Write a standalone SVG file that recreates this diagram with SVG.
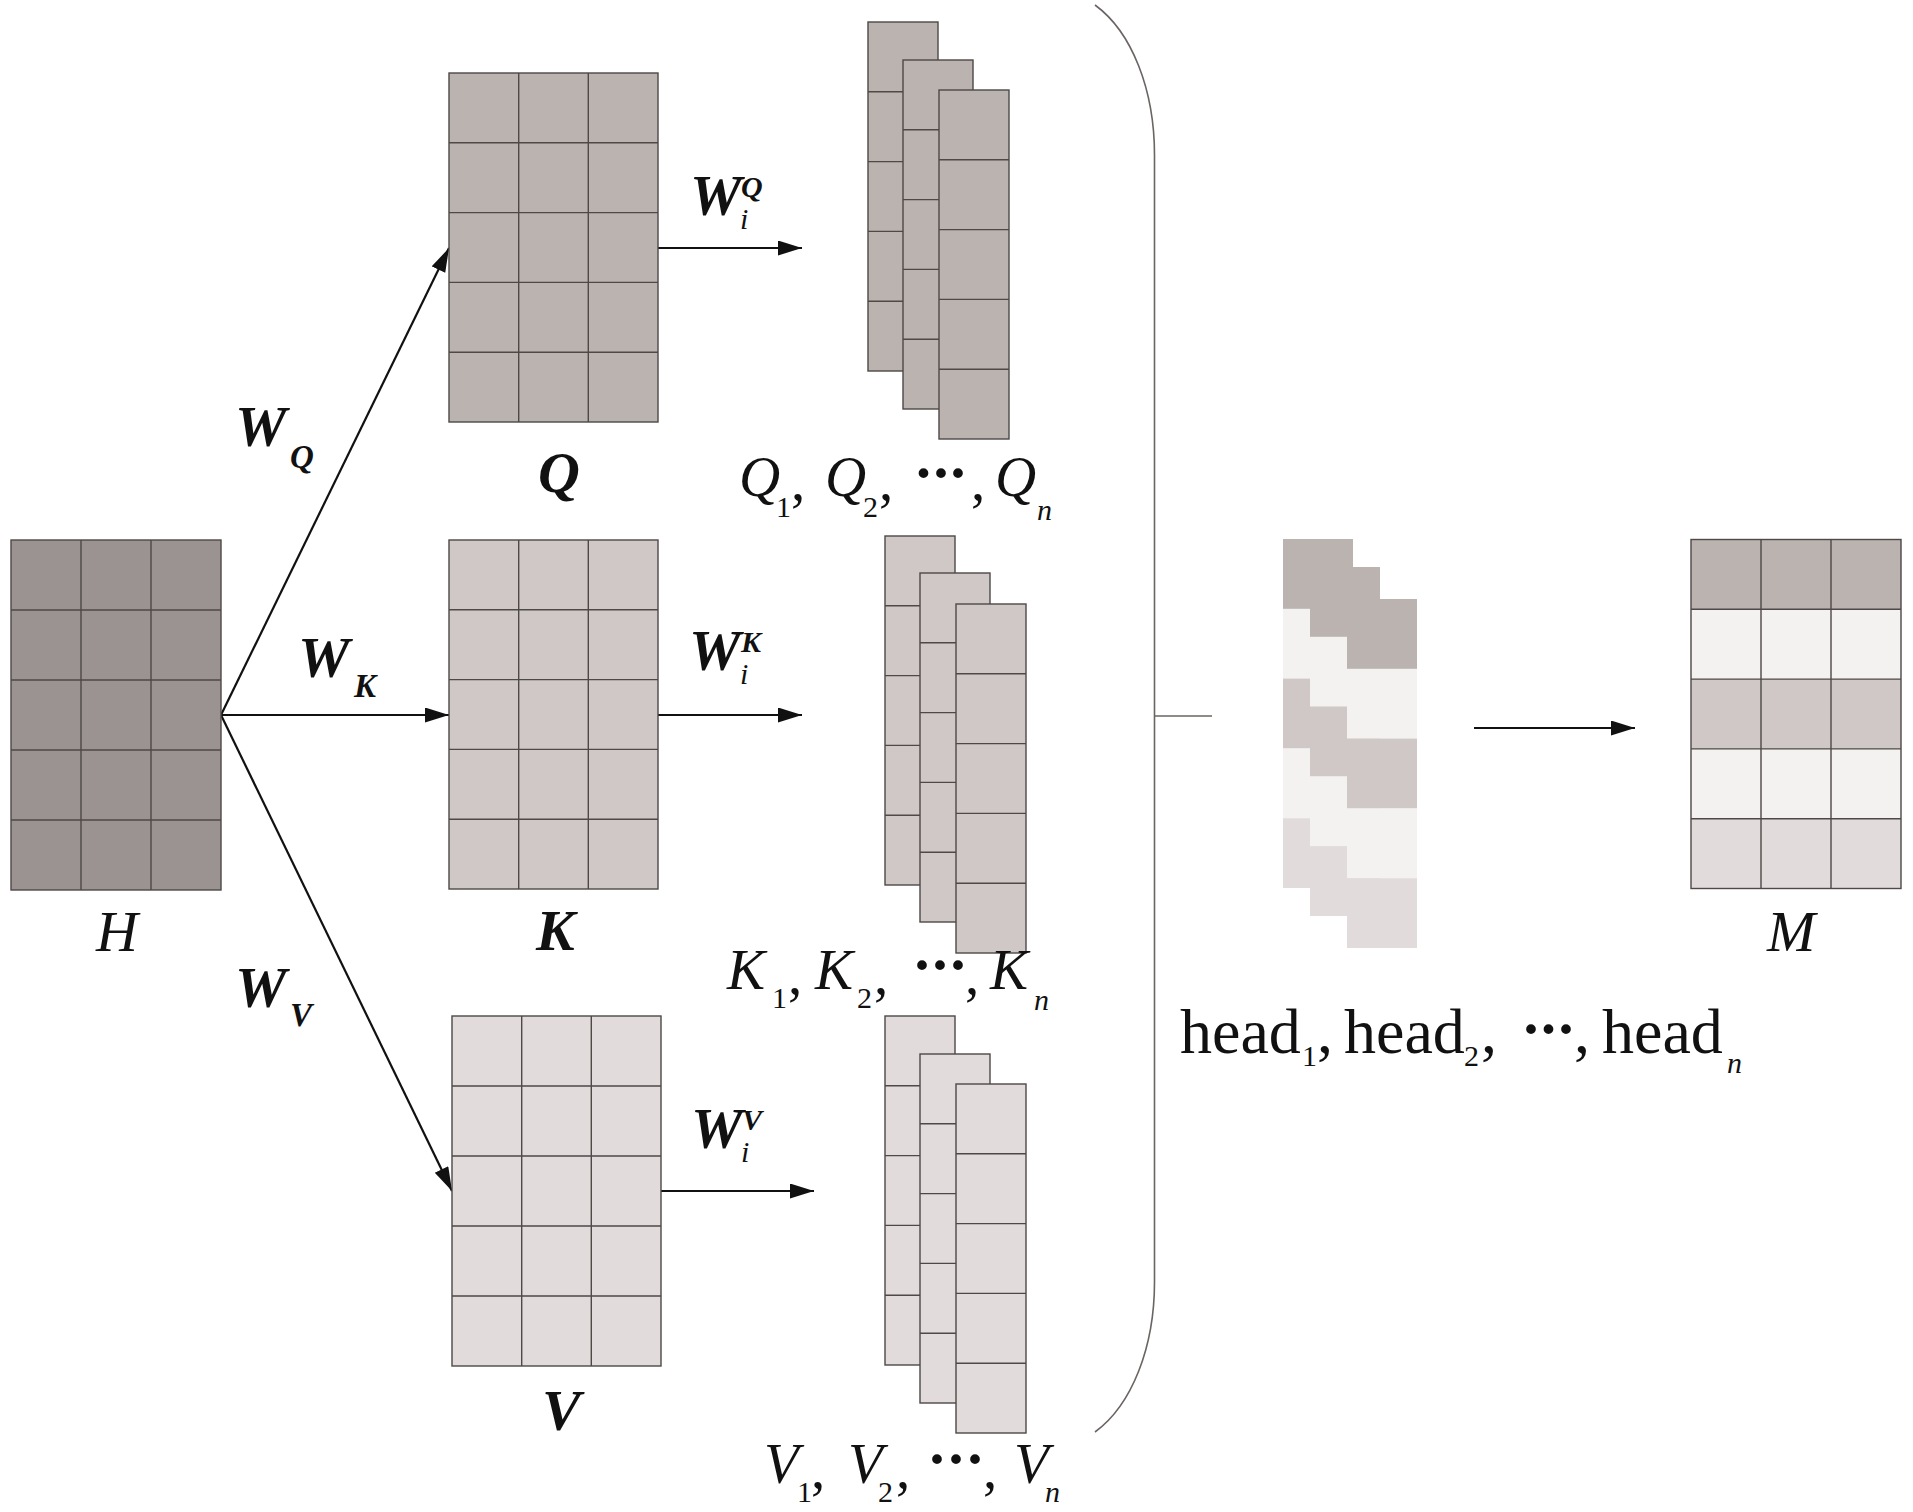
<svg xmlns="http://www.w3.org/2000/svg" xmlns:xlink="http://www.w3.org/1999/xlink" width="1913" height="1512" viewBox="0 0 1913 1512">
<style>
.grid{stroke:#4e4847;stroke-width:1.4;fill:none}
.cell{stroke:#4e4847;stroke-width:1.4}
.conn{stroke:#111;stroke-width:2.2;fill:none}
.br{stroke:#6a6462;stroke-width:1.6;fill:none}
.t{font-family:"Liberation Serif","Times New Roman",serif;fill:#111}
.bi{font-style:italic;font-weight:bold}
.it{font-style:italic}
.dots{font-family:"Liberation Serif","Times New Roman",serif;font-weight:bold;fill:#111}
</style>
<defs>
<marker id="ah" markerUnits="userSpaceOnUse" markerWidth="26" markerHeight="16" refX="24" refY="7.5" orient="auto">
<path d="M0,0 L24,7.5 L0,15 z" fill="#111"/>
</marker>
<g id="sheet">
<rect x="0" y="0" width="70" height="349" class="cell"/>
<path class="grid" d="M0,69.8H70M0,139.6H70M0,209.4H70M0,279.2H70"/>
</g>
<g id="hsheet">
<rect x="0" y="0" width="70" height="70" fill="#bab3b0"/>
<rect x="0" y="69.8" width="70" height="70" fill="#f4f2f1"/>
<rect x="0" y="139.6" width="70" height="70" fill="#cfc8c6"/>
<rect x="0" y="209.4" width="70" height="70" fill="#f4f2f1"/>
<rect x="0" y="279.2" width="70" height="69.8" fill="#e1dcdb"/>
</g>
</defs>
<rect width="1913" height="1512" fill="#fff"/>

<g id="connectors">
<line class="conn" x1="221" y1="715" x2="449" y2="248" marker-end="url(#ah)"/>
<line class="conn" x1="221" y1="715" x2="449" y2="715" marker-end="url(#ah)"/>
<line class="conn" x1="221" y1="715" x2="452" y2="1191" marker-end="url(#ah)"/>
<line class="conn" x1="658" y1="248" x2="802" y2="248" marker-end="url(#ah)"/>
<line class="conn" x1="658" y1="715" x2="802" y2="715" marker-end="url(#ah)"/>
<line class="conn" x1="661" y1="1191" x2="814" y2="1191" marker-end="url(#ah)"/>
<line class="conn" x1="1474" y1="728" x2="1635" y2="728" marker-end="url(#ah)"/>
<path class="br" d="M1095,5 C1132,32 1154.5,90 1154.5,155 L1154.5,1282 C1154.5,1347 1132,1405 1095,1432"/>
<line class="br" x1="1154.5" y1="716" x2="1212" y2="716"/>
</g>

<g id="H">
<rect x="11" y="540" width="210" height="350" fill="#9b9391" class="cell"/>
<path class="grid" d="M81,540V890M151,540V890M11,610H221M11,680H221M11,750H221M11,820H221"/>
<text class="t it" x="96" y="951" font-size="58">H</text>
</g>

<g id="Q">
<rect x="449" y="73" width="209" height="349" fill="#bab3b0" class="cell"/>
<path class="grid" d="M518.7,73V422M588.3,73V422M449,142.8H658M449,212.6H658M449,282.4H658M449,352.2H658"/>
<text class="t bi" x="538" y="492" font-size="58">Q</text>
</g>

<g id="K">
<rect x="449" y="540" width="209" height="349" fill="#cfc8c6" class="cell"/>
<path class="grid" d="M518.7,540V889M588.3,540V889M449,609.8H658M449,679.6H658M449,749.4H658M449,819.2H658"/>
<text class="t bi" x="536" y="950" font-size="58">K</text>
</g>

<g id="V">
<rect x="452" y="1016" width="209" height="350" fill="#e1dcdb" class="cell"/>
<path class="grid" d="M521.7,1016V1366M591.3,1016V1366M452,1086H661M452,1156H661M452,1226H661M452,1296H661"/>
<text class="t bi" x="542" y="1430" font-size="58">V</text>
</g>

<g id="label-WQ">
<text class="t bi" x="235" y="446" font-size="58">W</text>
<text class="t bi" x="290" y="468" font-size="33">Q</text>
</g>
<g id="label-WK">
<text class="t bi" x="298" y="677" font-size="58">W</text>
<text class="t bi" x="354" y="697" font-size="33">K</text>
</g>
<g id="label-WV">
<text class="t bi" x="235" y="1007" font-size="58">W</text>
<text class="t bi" x="290" y="1026" font-size="33">V</text>
</g>

<g id="label-WiQ">
<text class="t bi" x="690" y="215" font-size="58">W</text>
<text class="t bi" x="741" y="197" font-size="30">Q</text>
<text class="t it" x="740" y="229" font-size="30">i</text>
</g>
<g id="label-WiK">
<text class="t bi" x="689" y="670" font-size="58">W</text>
<text class="t bi" x="741" y="652" font-size="30">K</text>
<text class="t it" x="740" y="684" font-size="30">i</text>
</g>
<g id="label-WiV">
<text class="t bi" x="691" y="1148" font-size="58">W</text>
<text class="t bi" x="742" y="1130" font-size="30">V</text>
<text class="t it" x="741" y="1162" font-size="30">i</text>
</g>

<g id="Qstack">
<use xlink:href="#sheet" href="#sheet" x="868" y="22" fill="#bab3b0"/>
<use xlink:href="#sheet" href="#sheet" x="903" y="60" fill="#bab3b0"/>
<use xlink:href="#sheet" href="#sheet" x="939" y="90" fill="#bab3b0"/>
<text class="t" font-size="57"><tspan class="it" x="739" y="496">Q</tspan><tspan x="776" y="517" font-size="30">1</tspan><tspan x="791" y="500">,</tspan><tspan class="it" x="825" y="496">Q</tspan><tspan x="863" y="517" font-size="30">2</tspan><tspan x="879" y="500">,</tspan><tspan x="971" y="500">,</tspan><tspan class="it" x="995" y="496">Q</tspan><tspan class="it" x="1037" y="520" font-size="30">n</tspan></text>
<text class="dots" x="913.5 931 948" y="493" font-size="60">···</text>
</g>

<g id="Kstack">
<use xlink:href="#sheet" href="#sheet" x="885" y="536" fill="#cfc8c6"/>
<use xlink:href="#sheet" href="#sheet" x="920" y="573" fill="#cfc8c6"/>
<use xlink:href="#sheet" href="#sheet" x="956" y="604" fill="#cfc8c6"/>
<text class="t" font-size="57"><tspan class="it" x="727" y="989">K</tspan><tspan x="772" y="1008" font-size="30">1</tspan><tspan x="788" y="994">,</tspan><tspan class="it" x="815" y="989">K</tspan><tspan x="857" y="1008" font-size="30">2</tspan><tspan x="874" y="994">,</tspan><tspan x="965" y="994">,</tspan><tspan class="it" x="990" y="989">K</tspan><tspan class="it" x="1034" y="1010" font-size="30">n</tspan></text>
<text class="dots" x="912 930 948" y="985" font-size="60">···</text>
</g>

<g id="Vstack">
<use xlink:href="#sheet" href="#sheet" x="885" y="1016" fill="#e1dcdb"/>
<use xlink:href="#sheet" href="#sheet" x="920" y="1054" fill="#e1dcdb"/>
<use xlink:href="#sheet" href="#sheet" x="956" y="1084" fill="#e1dcdb"/>
<text class="t" font-size="57"><tspan class="it" x="764" y="1483">V</tspan><tspan x="797" y="1502" font-size="30">1</tspan><tspan x="811" y="1488">,</tspan><tspan class="it" x="848" y="1483">V</tspan><tspan x="878" y="1502" font-size="30">2</tspan><tspan x="896" y="1488">,</tspan><tspan x="983" y="1488">,</tspan><tspan class="it" x="1014" y="1483">V</tspan><tspan class="it" x="1045" y="1502" font-size="30">n</tspan></text>
<text class="dots" x="927 946 965" y="1479" font-size="60">···</text>
</g>

<g id="heads">
<use xlink:href="#hsheet" href="#hsheet" x="1283" y="539"/>
<use xlink:href="#hsheet" href="#hsheet" x="1310" y="567"/>
<use xlink:href="#hsheet" href="#hsheet" x="1347" y="599"/>
<text class="t" font-size="64"><tspan x="1180" y="1053">head</tspan><tspan x="1302" y="1066" font-size="30">1</tspan><tspan x="1317" y="1053">,</tspan><tspan x="1344" y="1053">head</tspan><tspan x="1464" y="1066" font-size="30">2</tspan><tspan x="1481" y="1053">,</tspan><tspan x="1574" y="1053">,</tspan><tspan x="1602" y="1053">head</tspan><tspan class="it" x="1727" y="1073" font-size="30">n</tspan></text>
<text class="dots" x="1521 1538.5 1556" y="1049" font-size="60">···</text>
</g>

<g id="M">
<rect x="1691" y="539.5" width="210" height="70" fill="#bab3b0"/>
<rect x="1691" y="609.3" width="210" height="70" fill="#f4f2f1"/>
<rect x="1691" y="679.1" width="210" height="70" fill="#cfc8c6"/>
<rect x="1691" y="748.9" width="210" height="70" fill="#f4f2f1"/>
<rect x="1691" y="818.7" width="210" height="69.8" fill="#e1dcdb"/>
<rect x="1691" y="539.5" width="210" height="349" class="grid"/>
<path class="grid" d="M1761,539.5V888.5M1831,539.5V888.5M1691,609.3H1901M1691,679.1H1901M1691,748.9H1901M1691,818.7H1901"/>
<text class="t it" x="1767" y="951" font-size="58">M</text>
</g>
</svg>
